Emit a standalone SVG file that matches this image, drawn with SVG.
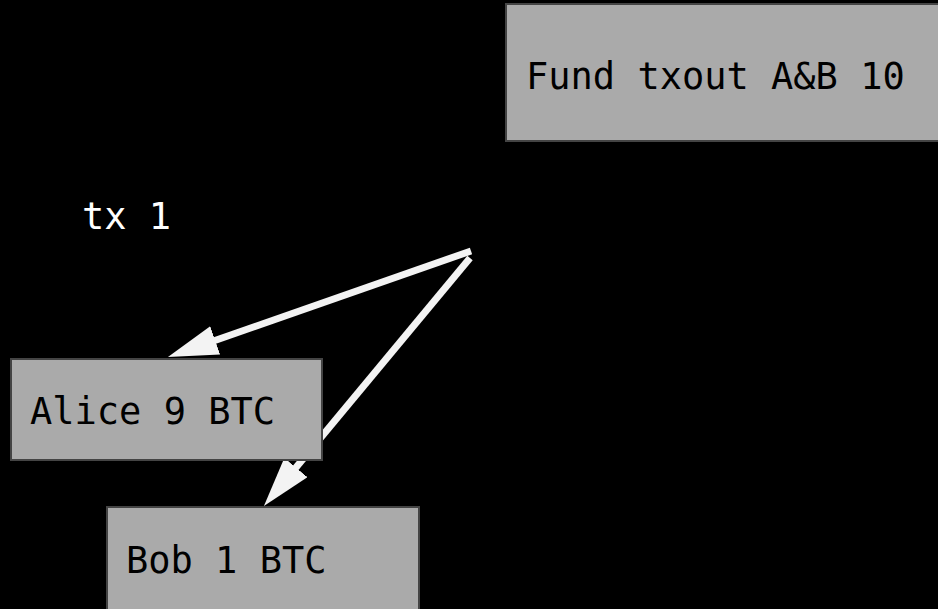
<svg xmlns="http://www.w3.org/2000/svg" width="938" height="609" viewBox="0 0 938 609">
<style>
.box{fill:#aaaaaa;stroke:#444444;stroke-width:2}
.lbl{font-family:"DejaVu Sans Mono","Liberation Mono",monospace;font-size:37px;fill:#000000}
.edge{stroke:#f3f3f3;stroke-width:7;fill:none}
</style>
<defs>
<marker id="ah" markerUnits="userSpaceOnUse" markerWidth="50" markerHeight="30" refX="20" refY="15" orient="auto" viewBox="0 0 50 30">
<path d="M0,0 L50,15 L0,30 z" fill="#f3f3f3"/>
</marker>
</defs>
<rect width="938" height="609" fill="#000000"/>
<g id="connectors">
<path class="edge" d="M471,251 L196.3,347" marker-end="url(#ah)"/>
<path class="edge" d="M470,258 L283.1,482.9" marker-end="url(#ah)"/>
</g>
<g id="fund">
<rect class="box" x="506" y="4" width="440" height="137"/>
<text class="lbl" x="526" y="89">Fund txout A&amp;B 10</text>
</g>
<g id="tx1">
<text class="lbl" x="82" y="229" style="fill:#ffffff">tx 1</text>
</g>
<g id="alice">
<rect class="box" x="11" y="359" width="311" height="101"/>
<text class="lbl" x="30" y="424">Alice 9 BTC</text>
</g>
<g id="bob">
<rect class="box" x="107" y="507" width="312" height="110"/>
<text class="lbl" x="126" y="573">Bob 1 BTC</text>
</g>
</svg>
